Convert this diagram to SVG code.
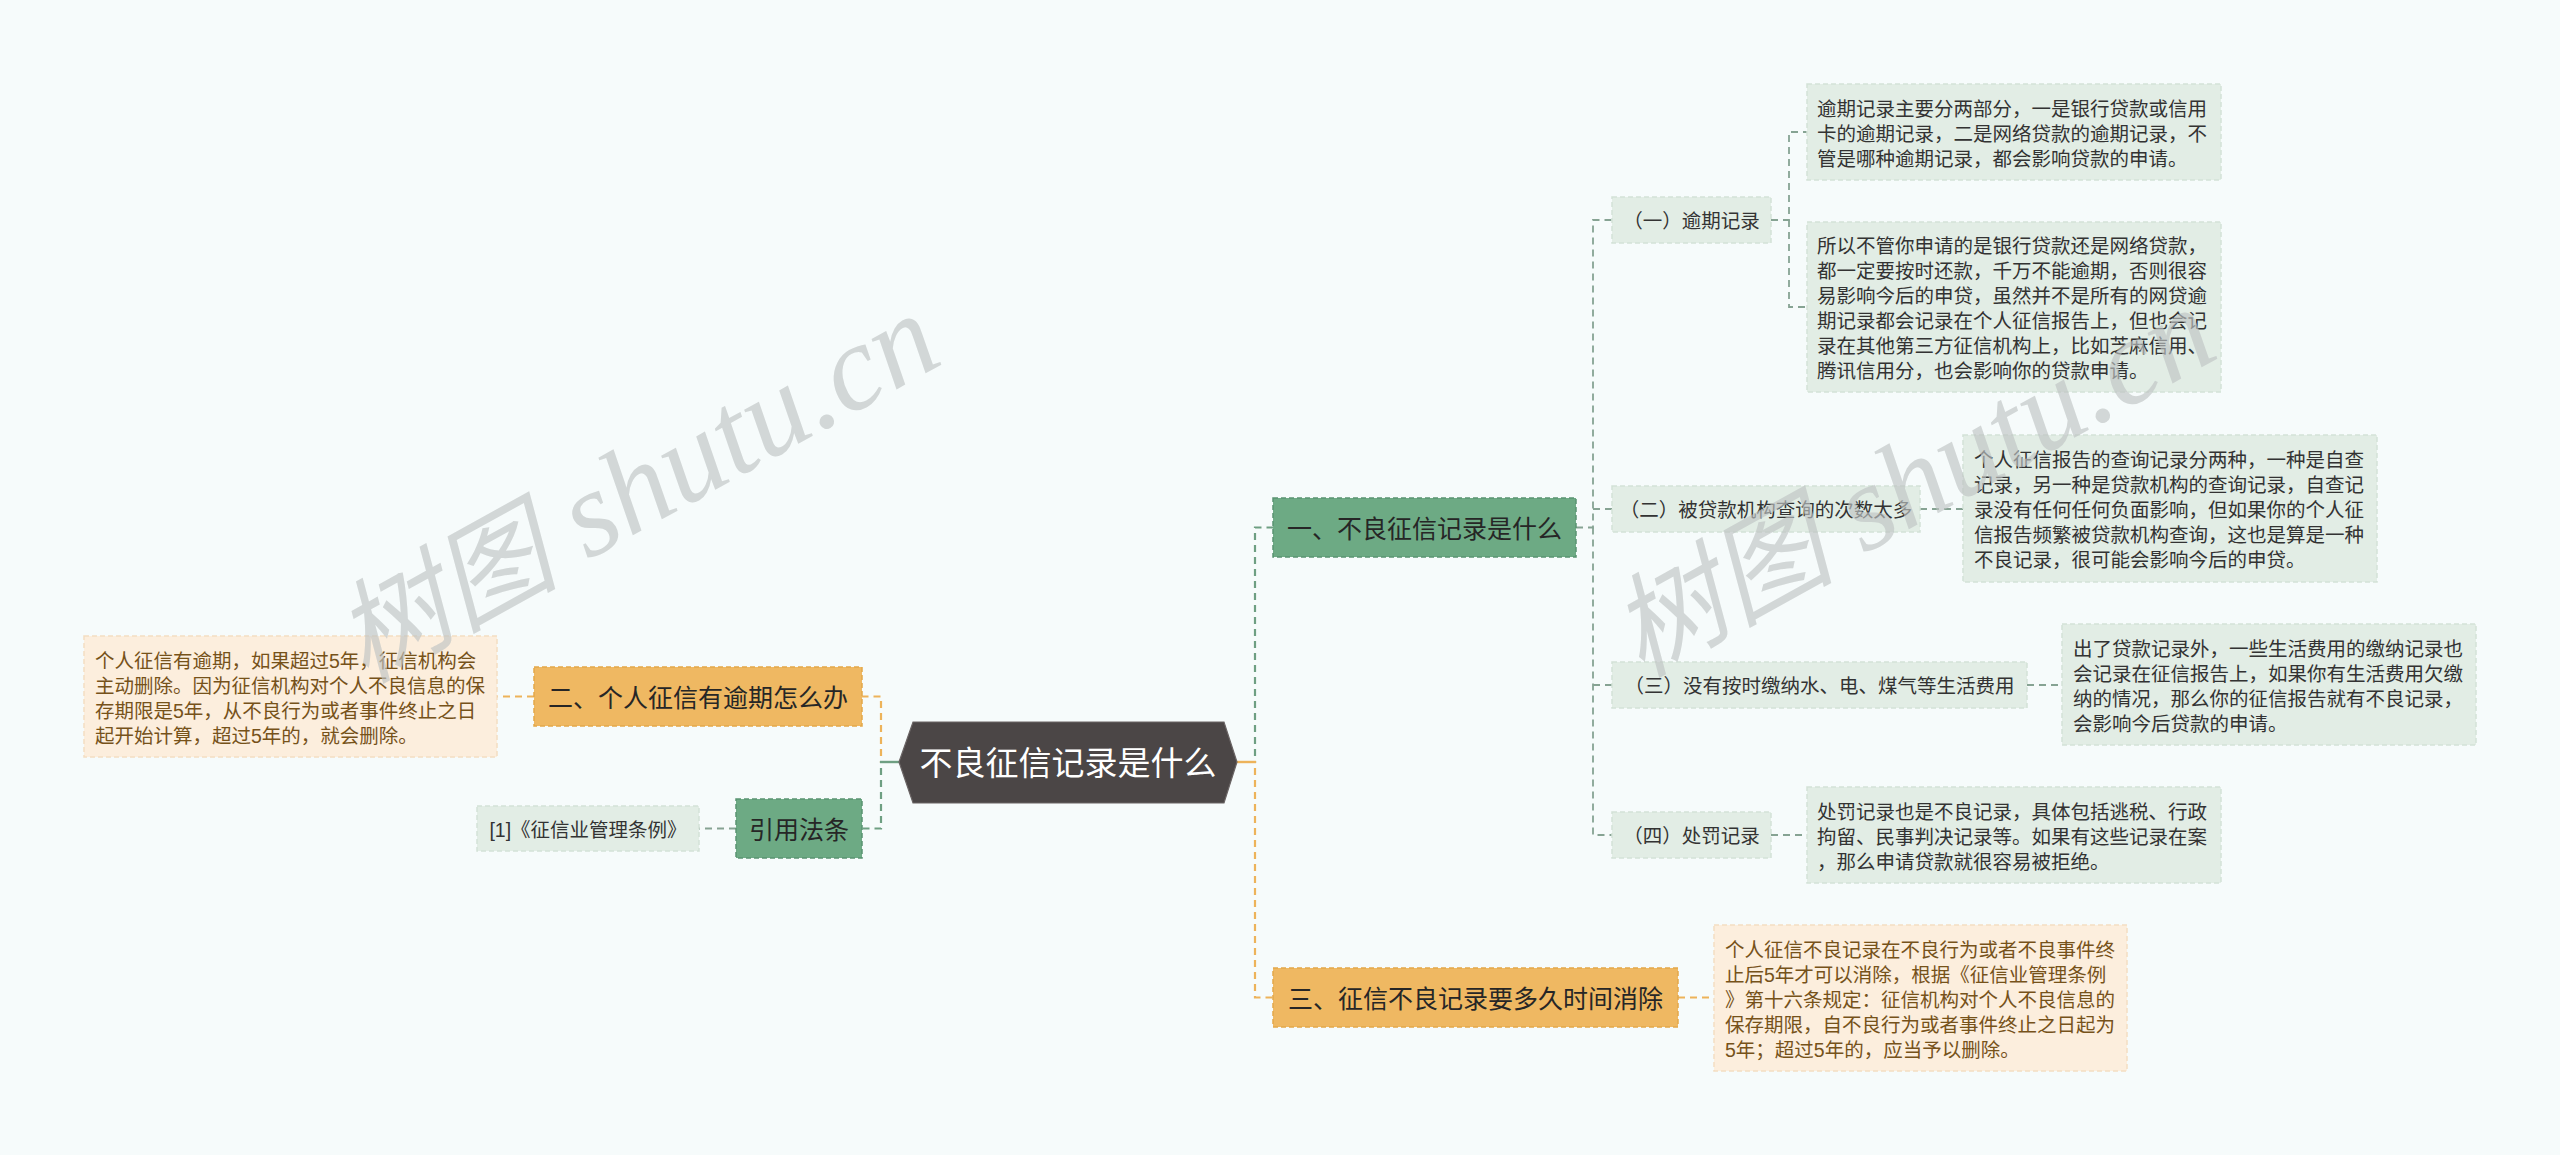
<svg xmlns="http://www.w3.org/2000/svg" width="2560" height="1155" viewBox="0 0 2560 1155">
<style>
text{font-family:"Liberation Sans","Noto Sans CJK SC",sans-serif;dominant-baseline:central}
.bg{fill:#F6FBFB}
.c-green{fill:none;stroke:#6E9F82;stroke-width:2.2;stroke-dasharray:7 5}
.c-orange{fill:none;stroke:#EDB35A;stroke-width:2.2;stroke-dasharray:7 5}
.c-sub{fill:none;stroke:#86A393;stroke-width:1.8;stroke-dasharray:7 5}
.stub-g{stroke:#6E9F82;stroke-width:2.4}
.stub-o{stroke:#EDB35A;stroke-width:2.4}
.n1g{fill:#6DAA84;stroke:#5A9471;stroke-width:1.5;stroke-dasharray:5 3}
.n1o{fill:#EFB862;stroke:#E3A849;stroke-width:1.5;stroke-dasharray:5 3}
.n2{fill:#E2EDE5;stroke:#D3E2D7;stroke-width:1.5;stroke-dasharray:5 3}
.np{fill:#FCEEDD;stroke:#F4DEC2;stroke-width:1.5;stroke-dasharray:5 3}
.t1{font-size:25px;fill:#262626;text-anchor:middle}
.t2{font-size:19.5px;fill:#333333;text-anchor:middle}
.tl{font-size:19.5px;fill:#333333}
.tp{font-size:19.5px;fill:#76521A}
.wm{font-family:"Liberation Serif","Noto Sans CJK SC",serif;font-style:italic;font-size:122px;fill:#BFC4C4;opacity:0.65;dominant-baseline:alphabetic}
.wm .cjk{font-size:112px}
</style>
<rect class="bg" x="0" y="0" width="2560" height="1155"/>

<g id="connectors">
  <path class="c-orange" d="M1237,762 H1255 V997.5 H1273"/>
  <path class="c-green" d="M1237,762 H1255 V527.5 H1273"/>
  <line class="stub-o" x1="1237" y1="762" x2="1256" y2="762"/>
  <path class="c-orange" d="M899,762 H881 V696.5 H862"/>
  <path class="c-green" d="M899,762 H881 V828.5 H862"/>
  <line class="stub-g" x1="880" y1="762" x2="899" y2="762"/>
  <path class="c-sub" d="M1576,527.5 H1593 V220 H1612"/>
  <path class="c-sub" d="M1593,527.5 V835 H1612"/>
  <path class="c-sub" d="M1593,509 H1612"/>
  <path class="c-sub" d="M1593,685 H1612"/>
  <path class="c-sub" d="M1771,220 H1789 V132 H1807"/>
  <path class="c-sub" d="M1789,220 V307 H1807"/>
  <path class="c-sub" d="M1920,509 H1963"/>
  <path class="c-sub" d="M2027,685 H2062"/>
  <path class="c-sub" d="M1771,835 H1807"/>
  <path class="c-orange" d="M1678,997.5 H1714"/>
  <path class="c-orange" d="M534,696.5 H497"/>
  <path class="c-sub" d="M736,828.5 H699"/>
</g>

<g id="root">
  <polygon points="899,762 913,722 1224,722 1237,762 1224,803 913,803" fill="#4B4646" stroke="#6A6464" stroke-width="1.2"/>
  <text x="1068" y="763" style="font-size:33px;fill:#FFFFFF;text-anchor:middle">不良征信记录是什么</text>
</g>

<g id="n-yi">
  <rect class="n1g" x="1273" y="498" width="303" height="59"/>
  <text class="t1" x="1424.5" y="528.5">一、不良征信记录是什么</text>
</g>
<g id="n-san">
  <rect class="n1o" x="1273" y="968" width="405" height="59"/>
  <text class="t1" x="1475.5" y="998.5">三、征信不良记录要多久时间消除</text>
</g>
<g id="n-er">
  <rect class="n1o" x="534" y="667" width="328" height="59"/>
  <text class="t1" x="698" y="697.5">二、个人征信有逾期怎么办</text>
</g>
<g id="n-law">
  <rect class="n1g" x="736" y="799" width="126" height="59"/>
  <text class="t1" x="799" y="829.5">引用法条</text>
</g>

<g id="n-yi-1">
  <rect class="n2" x="1612" y="197" width="159" height="46"/>
  <text class="t2" x="1691.5" y="221">（一）逾期记录</text>
</g>
<g id="n-yi-2">
  <rect class="n2" x="1612" y="486" width="308" height="46"/>
  <text class="t2" x="1766" y="510">（二）被贷款机构查询的次数太多</text>
</g>
<g id="n-yi-3">
  <rect class="n2" x="1612" y="662" width="415" height="46"/>
  <text class="t2" x="1819.5" y="686">（三）没有按时缴纳水、电、煤气等生活费用</text>
</g>
<g id="n-yi-4">
  <rect class="n2" x="1612" y="812" width="159" height="46"/>
  <text class="t2" x="1691.5" y="836">（四）处罚记录</text>
</g>
<g id="n-law-1">
  <rect class="n2" x="477" y="806" width="222" height="45"/>
  <text class="t2" x="588" y="829.5">[1]《征信业管理条例》</text>
</g>

<g id="leaf-1a">
  <rect class="n2" x="1807" y="84" width="414" height="96"/>
  <text class="tl" x="1817" y="108.5">逾期记录主要分两部分，一是银行贷款或信用</text>
  <text class="tl" x="1817" y="133.5">卡的逾期记录，二是网络贷款的逾期记录，不</text>
  <text class="tl" x="1817" y="158.5">管是哪种逾期记录，都会影响贷款的申请。</text>
</g>
<g id="leaf-1b">
  <rect class="n2" x="1807" y="222" width="414" height="170"/>
  <text class="tl" x="1817" y="246">所以不管你申请的是银行贷款还是网络贷款，</text>
  <text class="tl" x="1817" y="271">都一定要按时还款，千万不能逾期，否则很容</text>
  <text class="tl" x="1817" y="296">易影响今后的申贷，虽然并不是所有的网贷逾</text>
  <text class="tl" x="1817" y="321">期记录都会记录在个人征信报告上，但也会记</text>
  <text class="tl" x="1817" y="346">录在其他第三方征信机构上，比如芝麻信用、</text>
  <text class="tl" x="1817" y="371">腾讯信用分，也会影响你的贷款申请。</text>
</g>
<g id="leaf-2">
  <rect class="n2" x="1963" y="435" width="414" height="147"/>
  <text class="tl" x="1974" y="460">个人征信报告的查询记录分两种，一种是自查</text>
  <text class="tl" x="1974" y="485">记录，另一种是贷款机构的查询记录，自查记</text>
  <text class="tl" x="1974" y="510">录没有任何任何负面影响，但如果你的个人征</text>
  <text class="tl" x="1974" y="535">信报告频繁被贷款机构查询，这也是算是一种</text>
  <text class="tl" x="1974" y="560">不良记录，很可能会影响今后的申贷。</text>
</g>
<g id="leaf-3">
  <rect class="n2" x="2062" y="624" width="414" height="121"/>
  <text class="tl" x="2073" y="648.5">出了贷款记录外，一些生活费用的缴纳记录也</text>
  <text class="tl" x="2073" y="673.5">会记录在征信报告上，如果你有生活费用欠缴</text>
  <text class="tl" x="2073" y="698.5">纳的情况，那么你的征信报告就有不良记录，</text>
  <text class="tl" x="2073" y="723.5">会影响今后贷款的申请。</text>
</g>
<g id="leaf-4">
  <rect class="n2" x="1807" y="787" width="414" height="96"/>
  <text class="tl" x="1817" y="811.5">处罚记录也是不良记录，具体包括逃税、行政</text>
  <text class="tl" x="1817" y="836.5">拘留、民事判决记录等。如果有这些记录在案</text>
  <text class="tl" x="1817" y="861.5">，那么申请贷款就很容易被拒绝。</text>
</g>
<g id="leaf-san">
  <rect class="np" x="1714" y="925" width="413" height="146"/>
  <text class="tp" x="1725" y="949.5">个人征信不良记录在不良行为或者不良事件终</text>
  <text class="tp" x="1725" y="974.5">止后5年才可以消除，根据《征信业管理条例</text>
  <text class="tp" x="1725" y="999.5">》第十六条规定：征信机构对个人不良信息的</text>
  <text class="tp" x="1725" y="1024.5">保存期限，自不良行为或者事件终止之日起为</text>
  <text class="tp" x="1725" y="1049.5">5年；超过5年的，应当予以删除。</text>
</g>
<g id="leaf-er">
  <rect class="np" x="84" y="636" width="413" height="121"/>
  <text class="tp" x="95" y="660.5">个人征信有逾期，如果超过5年，征信机构会</text>
  <text class="tp" x="95" y="685.5">主动删除。因为征信机构对个人不良信息的保</text>
  <text class="tp" x="95" y="710.5">存期限是5年，从不良行为或者事件终止之日</text>
  <text class="tp" x="95" y="735.5">起开始计算，超过5年的，就会删除。</text>
</g>

<g id="watermark">
  <text class="wm" transform="translate(365,684) rotate(-29)"><tspan class="cjk">树图</tspan> shutu.cn</text>
  <text class="wm" transform="translate(1641,678) rotate(-29)"><tspan class="cjk">树图</tspan> shutu.cn</text>
</g>
</svg>
